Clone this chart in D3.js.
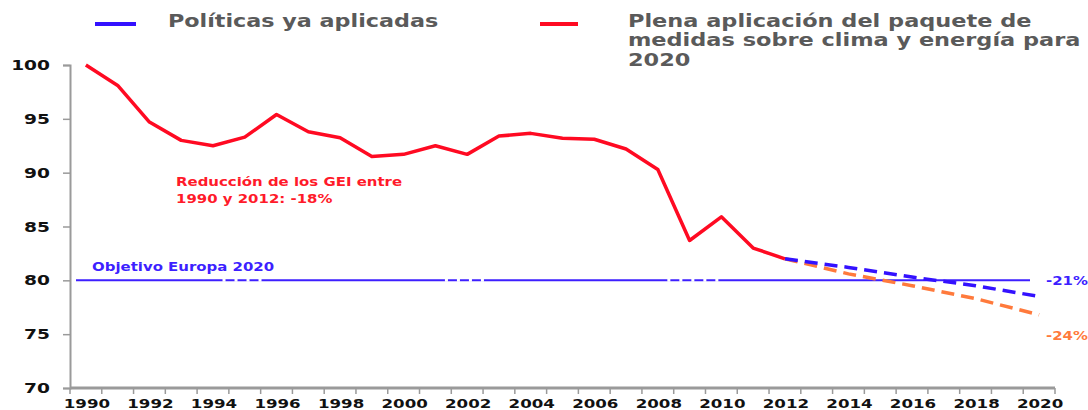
<!DOCTYPE html>
<html>
<head>
<meta charset="utf-8">
<script src="https://cdn.jsdelivr.net/npm/d3@7"></script>
<style>
  body { margin: 0; background: #fff; }
  text { font-family: "DejaVu Sans", Verdana, sans-serif; font-weight: bold; }
</style>
</head>
<body>
<svg id="chart"></svg>
<script>
// historical emissions index (1990 = 100)
var years = d3.range(1990, 2013);
var emissions = [100, 98.1, 94.7, 93.0, 92.5, 93.3, 95.4, 93.8, 93.25, 91.5, 91.7, 92.5,
  91.7, 93.4, 93.65, 93.2, 93.1, 92.2, 90.3, 83.7, 85.9, 83.0, 82.0];

// projections 2012 -> 2020
var projYears = [2012, 2014, 2016, 2018, 2020];
var policies = [82.0, 81.2, 80.3, 79.5, 78.5];
var fullPackage = [82.0, 80.6, 79.5, 78.3, 76.8];

var target = 80;
var yTicks = [70, 75, 80, 85, 90, 95, 100];
var allYears = d3.range(1990, 2021);
var labelYears = d3.range(1990, 2021, 2);

var width = 1088, height = 410;
var svg = d3.select("#chart").attr("width", width).attr("height", height);

var x = d3.scaleBand().domain(allYears).range([70, 1055]);
var y = d3.scaleLinear().domain([70, 100]).range([388, 65]);
var cx = function (yr) { return x(yr) + x.bandwidth() / 2; };

// the source uses a wide font, so text is stretched horizontally
function wide(px, py, sx) {
  return "translate(" + px + "," + py + ") scale(" + sx + ",1)";
}

// y axis
var yAxis = svg.append("g")
  .attr("transform", "translate(70,0)")
  .call(d3.axisLeft(y).tickValues(yTicks).tickSize(7).tickFormat(""));
yAxis.select(".domain").attr("stroke", "#9a9a9a").attr("stroke-width", 2);
yAxis.selectAll(".tick line").attr("stroke", "#9a9a9a").attr("stroke-width", 1.5);
svg.selectAll(".yl")
  .data(yTicks)
  .enter().append("text")
  .attr("transform", function (d) { return wide(50, y(d) + 5, 1.38); })
  .attr("text-anchor", "end")
  .attr("fill", "#111")
  .style("font-size", "13.5px")
  .text(function (d) { return d; });

// x axis with ticks between categories
var xg = svg.append("g").attr("transform", "translate(0,388)");
xg.append("line")
  .attr("x1", 70).attr("x2", 1055)
  .attr("stroke", "#9a9a9a").attr("stroke-width", 3);
xg.selectAll(".xt")
  .data(allYears.concat([2021]))
  .enter().append("line")
  .attr("x1", function (d) { return d === 2021 ? 1055 : x(d); })
  .attr("x2", function (d) { return d === 2021 ? 1055 : x(d); })
  .attr("y1", 0).attr("y2", 6)
  .attr("stroke", "#9a9a9a").attr("stroke-width", 1.5);
xg.selectAll(".xl")
  .data(labelYears)
  .enter().append("text")
  .attr("transform", function (d) { return wide(cx(d) + 1, 20, 1.28); })
  .attr("text-anchor", "middle")
  .attr("fill", "#111")
  .style("font-size", "13px")
  .text(function (d) { return d; });

// target line (the source shows a few broken stretches on it)
svg.append("line")
  .attr("x1", 76).attr("x2", 1030)
  .attr("y1", y(target)).attr("y2", y(target))
  .attr("stroke", "#3d1fff").attr("stroke-width", 2);
svg.selectAll(".gap")
  .data([[1994.3, 1995.8], [2001.3, 2002.8], [2008.3, 2010.1]])
  .enter().append("line")
  .attr("x1", function (d) { return cx(1990) + (d[0] - 1990) * x.step(); })
  .attr("x2", function (d) { return cx(1990) + (d[1] - 1990) * x.step(); })
  .attr("y1", y(target)).attr("y2", y(target))
  .attr("stroke", "#fff").attr("stroke-width", 3)
  .attr("stroke-dasharray", "3,9");

var line = d3.line().x(function (d) { return cx(d[0]); }).y(function (d) { return y(d[1]); });

svg.append("path")
  .datum(d3.zip(projYears, fullPackage))
  .attr("d", line)
  .attr("fill", "none")
  .attr("stroke", "#ff7a3c")
  .attr("stroke-width", 3.5)
  .attr("stroke-dasharray", "13,7");

svg.append("path")
  .datum(d3.zip(projYears, policies))
  .attr("d", line)
  .attr("fill", "none")
  .attr("stroke", "#3311ff")
  .attr("stroke-width", 3.5)
  .attr("stroke-dasharray", "13,7");

svg.append("path")
  .datum(d3.zip(years, emissions))
  .attr("d", line)
  .attr("fill", "none")
  .attr("stroke", "#ff0a22")
  .attr("stroke-width", 3.5)
  .attr("stroke-linejoin", "round");

// annotations
function note(txt, px, py, color) {
  svg.append("text").attr("transform", wide(px, py, 1.3))
    .attr("fill", color).style("font-size", "11.5px").text(txt);
}
note("Reducción de los GEI entre", 176, 186, "#ff1a2a");
note("1990 y 2012: -18%", 176, 203, "#ff1a2a");
note("Objetivo Europa 2020", 92, 271, "#3d1fff");
note("-21%", 1046, 285, "#3d1fff");
note("-24%", 1046, 340, "#ff7a3c");

// legend
var legend = svg.append("g");
legend.append("line").attr("x1", 95).attr("x2", 136).attr("y1", 24).attr("y2", 24)
  .attr("stroke", "#3311ff").attr("stroke-width", 4);
legend.append("text").attr("transform", wide(168, 27, 1.31))
  .attr("fill", "#5a5a5a").style("font-size", "17px")
  .text("Políticas ya aplicadas");
legend.append("line").attr("x1", 540).attr("x2", 578).attr("y1", 24).attr("y2", 24)
  .attr("stroke", "#ff0a22").attr("stroke-width", 4);
var lt = legend.append("text").attr("transform", wide(628, 27, 1.32))
  .attr("fill", "#5a5a5a").style("font-size", "17px");
["Plena aplicación del paquete de", "medidas sobre clima y energía para", "2020"]
  .forEach(function (s, i) {
    lt.append("tspan").attr("x", 0).attr("y", i * 19.5).text(s);
  });
</script>
</body>
</html>
